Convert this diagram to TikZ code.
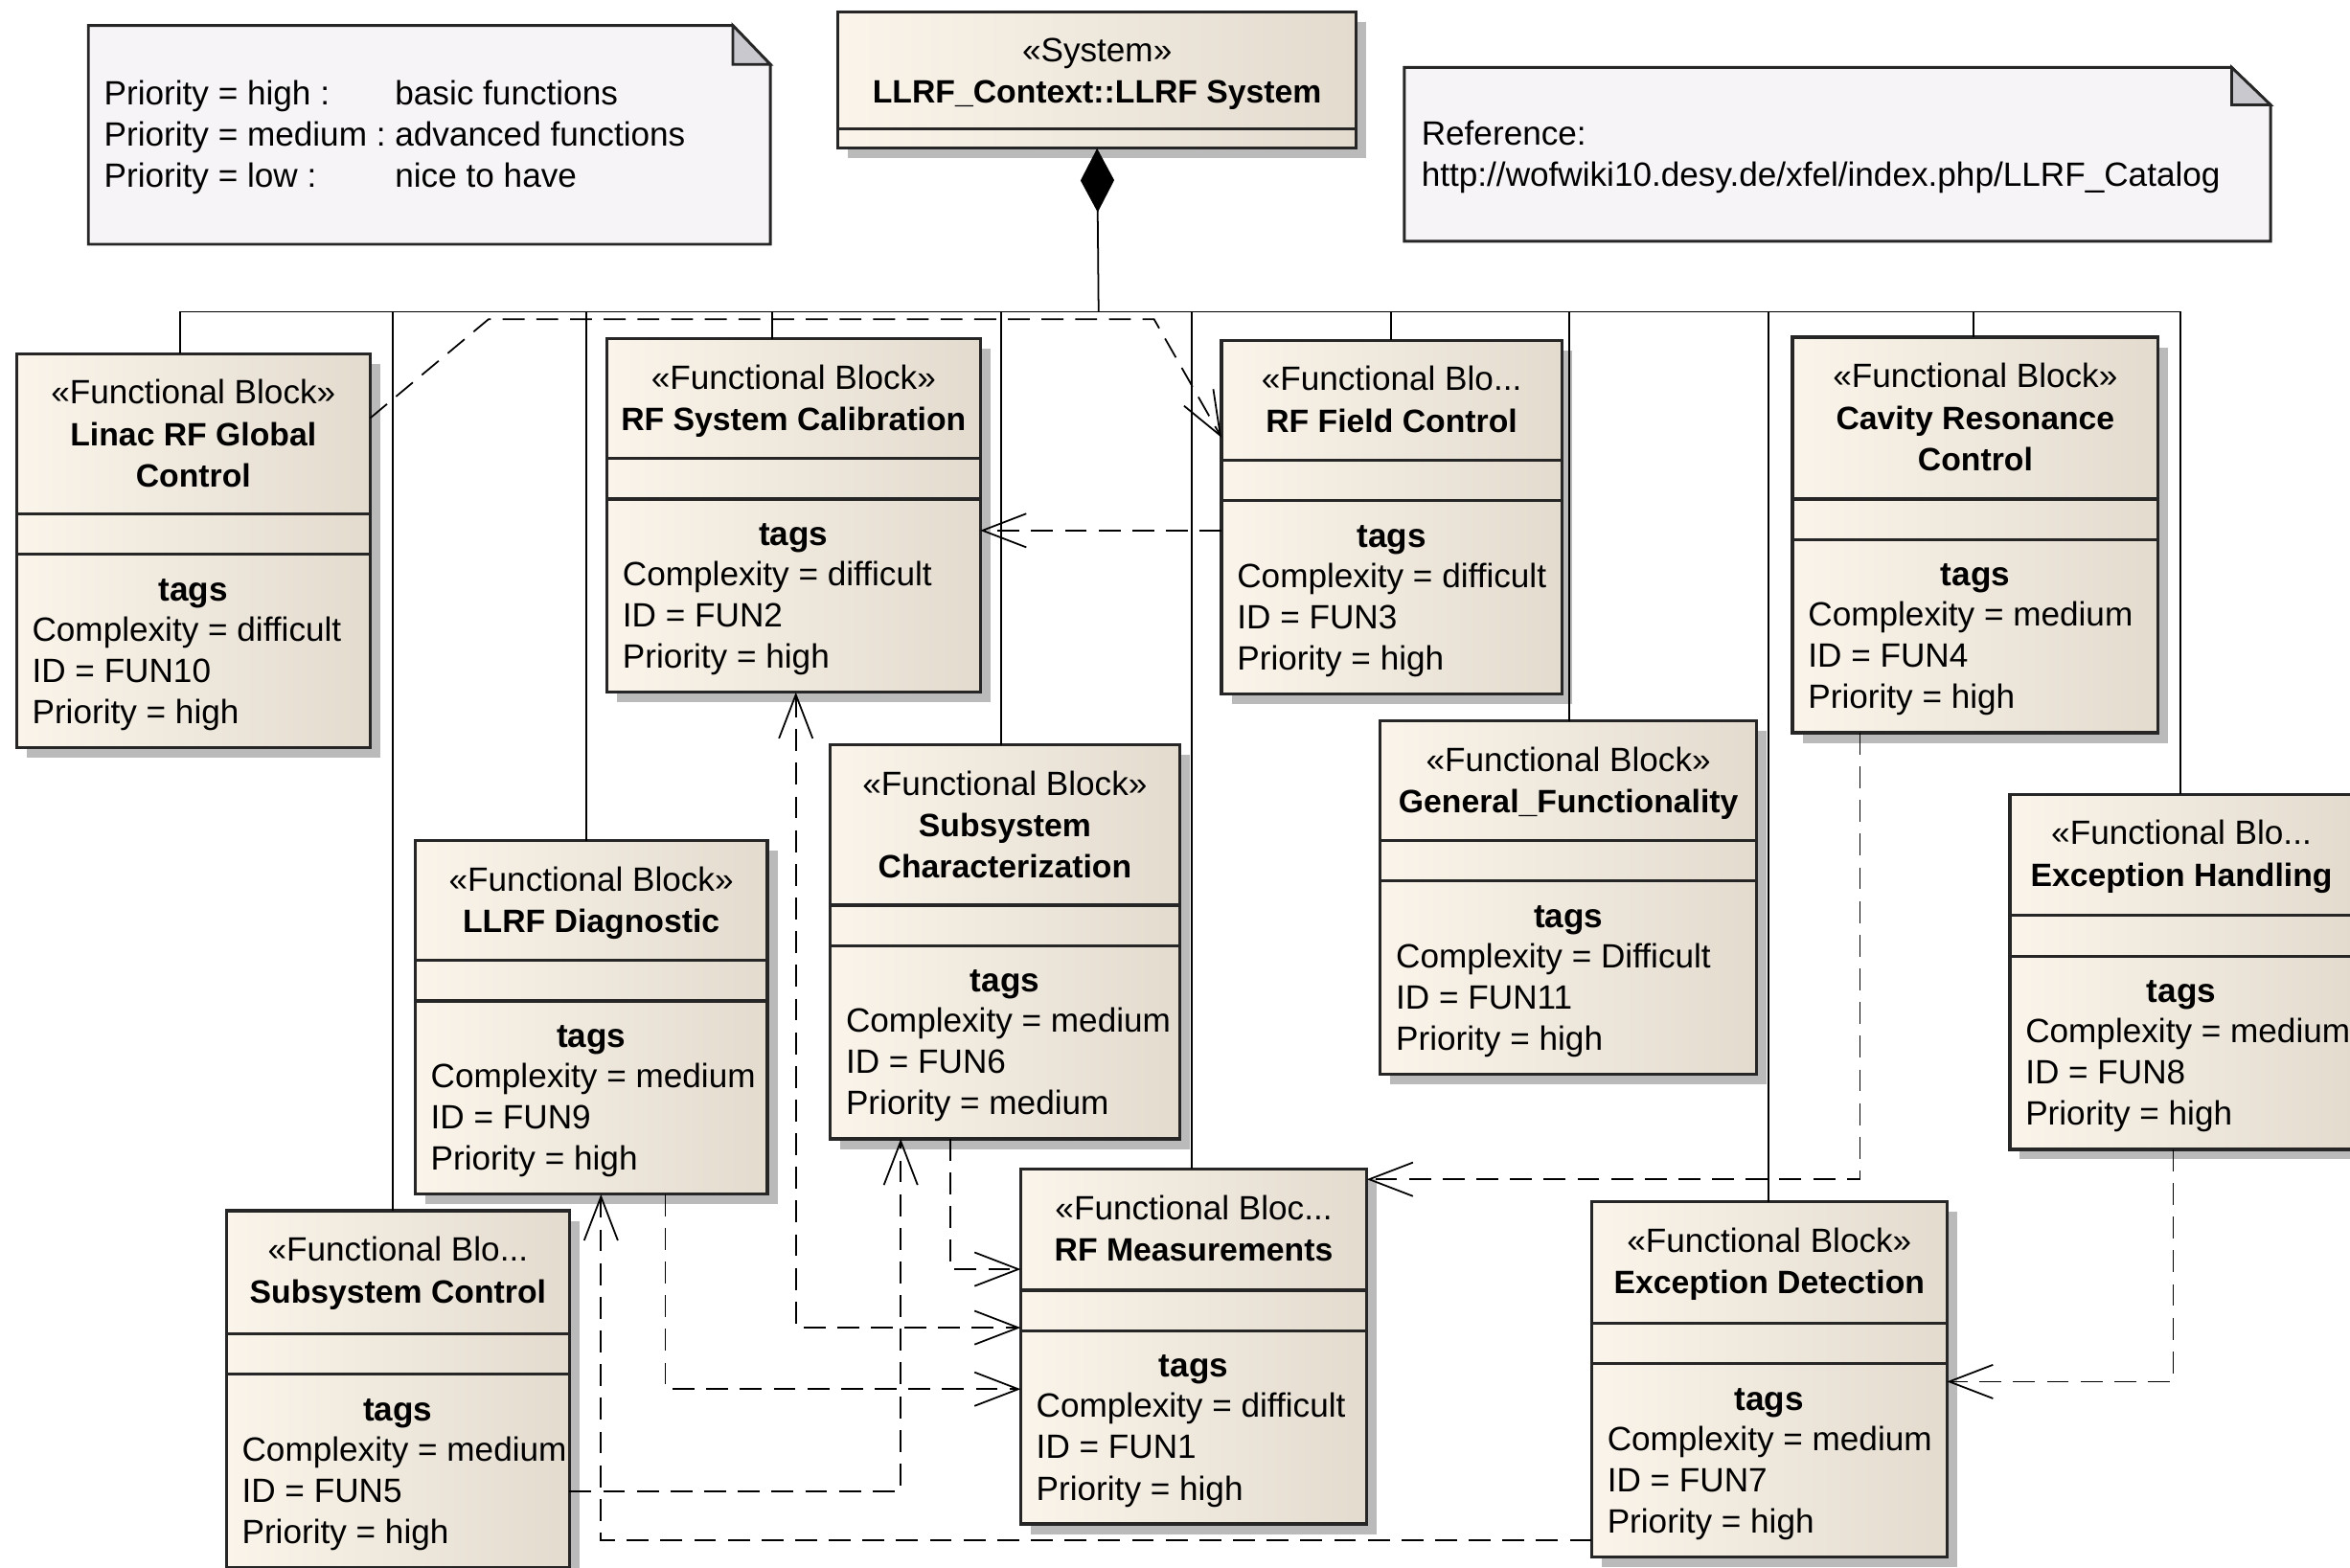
\documentclass[tikz,border=0pt]{standalone}
\usepackage{fontspec}
\setmainfont{Liberation Sans}
\usetikzlibrary{arrows.meta,positioning,shadows}
\definecolor{blockleft}{HTML}{FAF4EA}
\definecolor{blockright}{HTML}{E3DBCE}
\definecolor{notefill}{HTML}{F6F4F6}
\definecolor{foldgray}{HTML}{C8C8CE}
\def\pxu{0.0156446cm}
\newcommand{\bname}[1]{{\fontsize{9.6}{12.3}\selectfont\bfseries #1}}
\tikzset{
  >={Straight Barb[length=13pt,width=10pt]},
  block/.style={rectangle,draw=black!85,line width=0.9pt,left color=blockleft,right color=blockright,inner sep=0pt,outer sep=0pt,anchor=north west,drop shadow={shadow xshift=3pt,shadow yshift=-3pt,fill=black!30,opacity=0.9}},
  blocktext/.style={font=\fontsize{10}{12.3}\selectfont,inner sep=0pt,align=center,anchor=north},
  tagtitle/.style={font=\fontsize{10}{12.3}\selectfont\bfseries,inner sep=0pt,anchor=base},
  tagline/.style={font=\fontsize{10}{12.3}\selectfont,inner sep=0pt,anchor=base west},
  compline/.style={line width=0.9pt,black!85},
  assoc/.style={line width=0.5pt},
  dep/.style={line width=0.5pt,dash pattern=on 6.5pt off 3.5pt,->},
  notebox/.style={draw=black!85,line width=0.8pt,fill=notefill},
  fold/.style={draw=black!85,line width=0.8pt,fill=foldgray},
  notetext/.style={font=\fontsize{10}{12.3}\selectfont,inner sep=0pt,anchor=north west,align=left}
}
% name, x, y, width, header height, header, complexity, id, priority
\newcommand{\fblock}[9]{%
  \node[block,minimum width={#4*\pxu},minimum height={(#5+156)*\pxu}] (#1) at (#2,#3) {};
  \draw[compline] ({#2},{#3+#5}) -- ++(#4,0);
  \draw[compline] ({#2},{#3+#5+27}) -- ++(#4,0);
  \node[blocktext] (#1-head) at ({#2+#4/2},{#3+17}) {#6};
  \node[tagtitle] (#1-tags) at ({#2+#4/2},{#3+#5+58}) {tags};
  \node[tagline] (#1-cx) at ({#2+10},{#3+#5+85}) {Complexity = #7};
  \node[tagline] (#1-id) at ({#2+10},{#3+#5+112.5}) {ID = #8};
  \node[tagline] (#1-pr) at ({#2+10},{#3+#5+140}) {Priority = #9};
}

\begin{document}
\begin{tikzpicture}[x=0.0156446cm,y=-0.0156446cm]
  \useasboundingbox (0,0) rectangle (1568,1046);

  \draw[notebox] (59,17) -- (489,17) -- (514,43) -- (514,163) -- (59,163) -- cycle;
  \filldraw[fold] (489,17) -- (489,43) -- (514,43) -- cycle;
  \node[notetext] (legend) at (69,50) {\begin{tabular}{@{}l@{\ }l@{}}Priority = high : & basic functions\\ Priority = medium : & advanced functions\\ Priority = low : & nice to have\end{tabular}};

  \draw[notebox] (937,45) -- (1489,45) -- (1515,70) -- (1515,161) -- (937,161) -- cycle;
  \filldraw[fold] (1489,45) -- (1489,70) -- (1515,70) -- cycle;
  \node[notetext] (ref) at (948,80) {Reference:\\http://wofwiki10.desy.de/xfel/index.php/LLRF\_Catalog};

  \node[block,minimum width={346*\pxu},minimum height={91*\pxu}] (sys) at (559,8) {};
  \draw[compline] (559,86) -- ++(346,0);
  \node[blocktext] (sys-head) at (732,25) {«System»\\\bname{LLRF\_Context::LLRF System}};

  \fblock{lin}{11}{236}{236}{107}{«Functional Block»\\\bname{Linac RF Global}\\\bname{Control}}{difficult}{FUN10}{high}
  \fblock{rfc}{405}{226}{249}{80}{«Functional Block»\\\bname{RF System Calibration}}{difficult}{FUN2}{high}
  \fblock{rff}{815}{227}{227}{80}{«Functional Blo...\\\bname{RF Field Control}}{difficult}{FUN3}{high}
  \fblock{crc}{1196}{225}{244}{108}{«Functional Block»\\\bname{Cavity Resonance}\\\bname{Control}}{medium}{FUN4}{high}
  \fblock{gf}{921}{481}{251}{80}{«Functional Block»\\\bname{General\_Functionality}}{Difficult}{FUN11}{high}
  \fblock{exh}{1341}{530}{229}{81}{«Functional Blo...\\\bname{Exception Handling}}{medium}{FUN8}{high}
  \fblock{sch}{554}{497}{233}{107}{«Functional Block»\\\bname{Subsystem}\\\bname{Characterization}}{medium}{FUN6}{medium}
  \fblock{lld}{277}{561}{235}{80}{«Functional Block»\\\bname{LLRF Diagnostic}}{medium}{FUN9}{high}
  \fblock{ssc}{151}{808}{229}{82}{«Functional Blo...\\\bname{Subsystem Control}}{medium}{FUN5}{high}
  \fblock{rfm}{681}{780}{231}{81}{«Functional Bloc...\\\bname{RF Measurements}}{difficult}{FUN1}{high}
  \fblock{exd}{1062}{802}{237}{81}{«Functional Block»\\\bname{Exception Detection}}{medium}{FUN7}{high}

  \coordinate (hub) at (733,208);
  \draw[assoc,{Diamond[length=19pt,width=10pt]}-] (sys.south) -- (hub);
  \foreach \n/\x in {lin/120,ssc/262,lld/391,rfc/515,sch/668,rfm/795,rff/928,gf/1047,exd/1180,crc/1317,exh/1455}
    \draw[assoc] (\n.north -| \x,0) |- (hub);

  \draw[dep] (lin.east |- 0,279) -- (326,213) -- (770,213) -- (rff.west |- 0,292);
  \draw[dep] (rff.west |- 0,354) -- (rfc.east |- 0,354);
  \draw[dep] (crc.south -| 1241,0) |- (rfm.east |- 0,787);
  \draw[dep] (exh.south -| 1450,0) |- (exd.east |- 0,922);
  \draw[dep] (exd.west |- 0,1028) -| (lld.south -| 401,0);
  \draw[dep] (ssc.east |- 0,995) -| (sch.south -| 601,0);
  \draw[dep] (lld.south -| 444,0) |- (rfm.west |- 0,927);
  \draw[dep] (sch.south -| 634,0) |- (rfm.west |- 0,847);
  \draw[dep,<->] (rfc.south -| 531,0) |- (rfm.west |- 0,886);
\end{tikzpicture}
\end{document}
